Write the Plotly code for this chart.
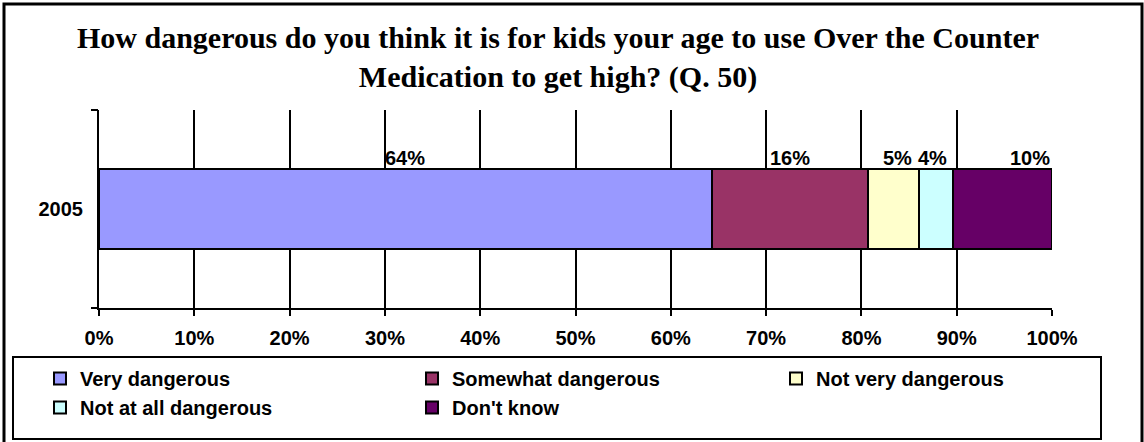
import plotly.graph_objects as go

# ---- data ----
categories = ["2005"]
series_names = ["Very dangerous", "Somewhat dangerous", "Not very dangerous",
                "Not at all dangerous", "Don't know"]
series_values = [64.3, 16.4, 5.3, 3.6, 10.4]
series_labels = ["64%", "16%", "5%", "4%", "10%"]
series_colors = ["#9999FF", "#993366", "#FFFFCC", "#CCFFFF", "#660066"]
x_ticks = [0, 10, 20, 30, 40, 50, 60, 70, 80, 90, 100]
x_tick_labels = ["0%", "10%", "20%", "30%", "40%", "50%", "60%", "70%", "80%", "90%", "100%"]
title_text = ("How dangerous do you think it is for kids your age to use Over the Counter"
              "<br>Medication to get high? (Q. 50)")

W, H = 1144, 442
ML, MR, MT, MB = 99, 92, 110, 134
PW, PH = W - ML - MR, H - MT - MB


def xp(px):
    return (px - ML) / PW


def yp(py):
    return (H - MB - py) / PH


legend_of = ["legend", "legend2", "legend3", "legend", "legend2"]

fig = go.Figure()
for name, val, col, lg in zip(series_names, series_values, series_colors, legend_of):
    fig.add_trace(go.Bar(
        y=categories, x=[val], name=name, orientation="h",
        marker=dict(color=col, line=dict(color="black", width=2)),
        width=0.404, legend=lg,
    ))

# data labels computed from cumulative values
total = sum(series_values)
cum = 0.0
label_shift = [0, 0, 4, -3, 0]
for i, (val, lab) in enumerate(zip(series_values, series_labels)):
    share = val / total * 100
    last = i == len(series_values) - 1
    xpos = 100 if last else cum + share / 2
    fig.add_annotation(
        x=xpos, y=0.202, xref="x", yref="y2", text=lab, showarrow=False,
        xanchor="right" if last else "center", yanchor="bottom",
        xshift=label_shift[i], yshift=-2,
        font=dict(family="Liberation Sans", size=20, color="black", weight="bold"),
    )
    cum += share

font_b = dict(family="Liberation Sans", size=20, color="black", weight="bold")

fig.update_layout(
    width=W, height=H,
    margin=dict(l=ML, r=MR, t=MT, b=MB, autoexpand=False),
    paper_bgcolor="white", plot_bgcolor="white",
    barmode="stack", barnorm="percent",
    title=dict(text=title_text, x=558 / W, xanchor="center", xref="container",
               y=1 - 48 / H, yanchor="top", yref="container",
               font=dict(family="Liberation Serif", size=30, color="black", weight="bold")),
    xaxis=dict(range=[0, 100], tickvals=x_ticks, ticktext=x_tick_labels,
               ticks="outside", ticklen=6, tickwidth=2, tickcolor="black",
               showline=True, linecolor="black", linewidth=2,
               showgrid=True, gridcolor="black", gridwidth=1.5, zeroline=False,
               tickfont=font_b, ticklabelstandoff=5, fixedrange=True),
    yaxis=dict(type="category", range=[-0.5, 0.5], ticks="",
               showline=True, linecolor="black", linewidth=2,
               showgrid=False, tickfont=font_b, ticklabelstandoff=10),
    yaxis2=dict(overlaying="y", anchor="x", side="left", range=[-0.5, 0.5],
                tickvals=[-0.5, 0.5], ticks="outside", ticklen=7, tickwidth=2,
                tickcolor="black", showticklabels=False, showline=False,
                showgrid=False, zeroline=False),
    legend=dict(x=xp(40), y=yp(359), xanchor="left", yanchor="top",
                orientation="v", font=font_b, bgcolor="rgba(0,0,0,0)",
                traceorder="normal"),
    legend2=dict(x=xp(412), y=yp(359), xanchor="left", yanchor="top",
                 orientation="v", font=font_b, bgcolor="rgba(0,0,0,0)",
                 traceorder="normal"),
    legend3=dict(x=xp(776), y=yp(359), xanchor="left", yanchor="top",
                 orientation="v", font=font_b, bgcolor="rgba(0,0,0,0)",
                 traceorder="normal"),
    showlegend=True,
    shapes=[
        # legend frame
        dict(type="rect", xref="paper", yref="paper",
             x0=xp(13), x1=xp(1101), y0=yp(439), y1=yp(357),
             line=dict(color="black", width=2), fillcolor="rgba(0,0,0,0)"),
        # outer chart frame
        dict(type="rect", xref="paper", yref="paper",
             x0=xp(4), x1=xp(1142), y0=yp(447), y1=yp(4),
             line=dict(color="black", width=3), fillcolor="rgba(0,0,0,0)"),
    ],
)

fig.write_html("out.html", config={"displayModeBar": False},
               post_script="document.body.style.margin='0';document.body.style.overflow='hidden';")
